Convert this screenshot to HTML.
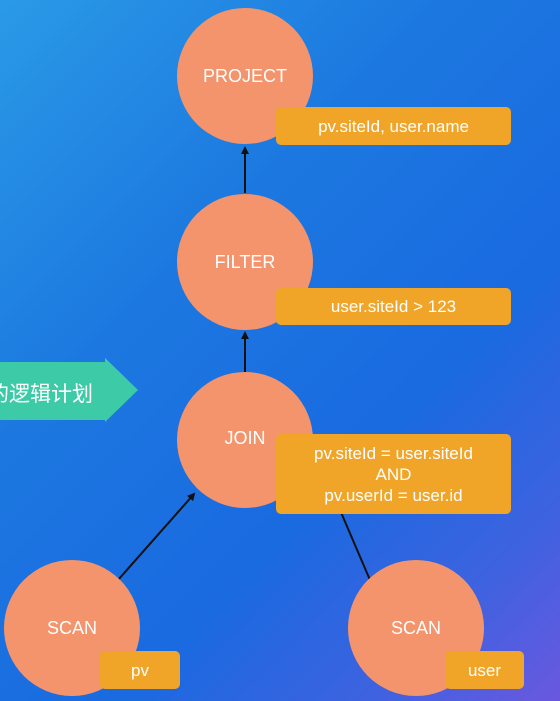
<!DOCTYPE html>
<html><head><meta charset="utf-8"><style>
html,body{margin:0;padding:0}
body{width:560px;height:701px;overflow:hidden;position:relative;font-family:"Liberation Sans","Noto Sans CJK SC",sans-serif;
background:linear-gradient(135deg,#2a9ae6 0%,#1c78e0 35%,#1a6ae0 65%,#3f62e0 85%,#6a58df 100%);}
.c{position:absolute;width:136px;height:136px;border-radius:50%;background:#f3946c;color:#fff;font-size:18px;display:flex;align-items:center;justify-content:center}
.b{position:absolute;background:#f0a529;border-radius:5px;color:#fff;font-size:17px;display:flex;align-items:center;justify-content:center;text-align:center;line-height:21px}
svg{position:absolute;left:0;top:0}
</style></head><body>
<svg width="560" height="701">
<defs><marker id="a" markerWidth="8" markerHeight="8" refX="6" refY="4" orient="auto" markerUnits="userSpaceOnUse"><path d="M0,0 L8,4 L0,8 z" fill="#111"/></marker></defs>
<path d="M0,362 H105 V358 L138,390 L105,422 V420 H0 z" fill="#3ccba6"/>
<line x1="245" y1="193" x2="245" y2="148" stroke="#111" stroke-width="2" marker-end="url(#a)"/>
<line x1="245" y1="372" x2="245" y2="333" stroke="#111" stroke-width="2" marker-end="url(#a)"/>
<line x1="118" y1="580" x2="194" y2="494" stroke="#111" stroke-width="2" marker-end="url(#a)"/>
<line x1="340" y1="510" x2="370" y2="580" stroke="#111" stroke-width="2"/>
</svg>
<div style="position:absolute;left:-12px;top:378px;color:#fff;font-size:21px;">的逻辑计划</div>
<div class="c" style="left:177px;top:8px;">PROJECT</div>
<div class="b" style="left:276px;top:107px;width:235px;height:38px;">pv.siteId, user.name</div>
<div class="c" style="left:177px;top:194px;">FILTER</div>
<div class="b" style="left:276px;top:288px;width:235px;height:37px;">user.siteId &gt; 123</div>
<div class="c" style="left:177px;top:372px;"><span style="margin-top:-4px">JOIN</span></div>
<div class="b" style="left:276px;top:434px;width:235px;height:80px;">pv.siteId = user.siteId<br>AND<br>pv.userId = user.id</div>
<div class="c" style="left:4px;top:560px;">SCAN</div>
<div class="b" style="left:100px;top:651px;width:80px;height:38px;">pv</div>
<div class="c" style="left:348px;top:560px;">SCAN</div>
<div class="b" style="left:445px;top:651px;width:79px;height:38px;">user</div>
</body></html>
